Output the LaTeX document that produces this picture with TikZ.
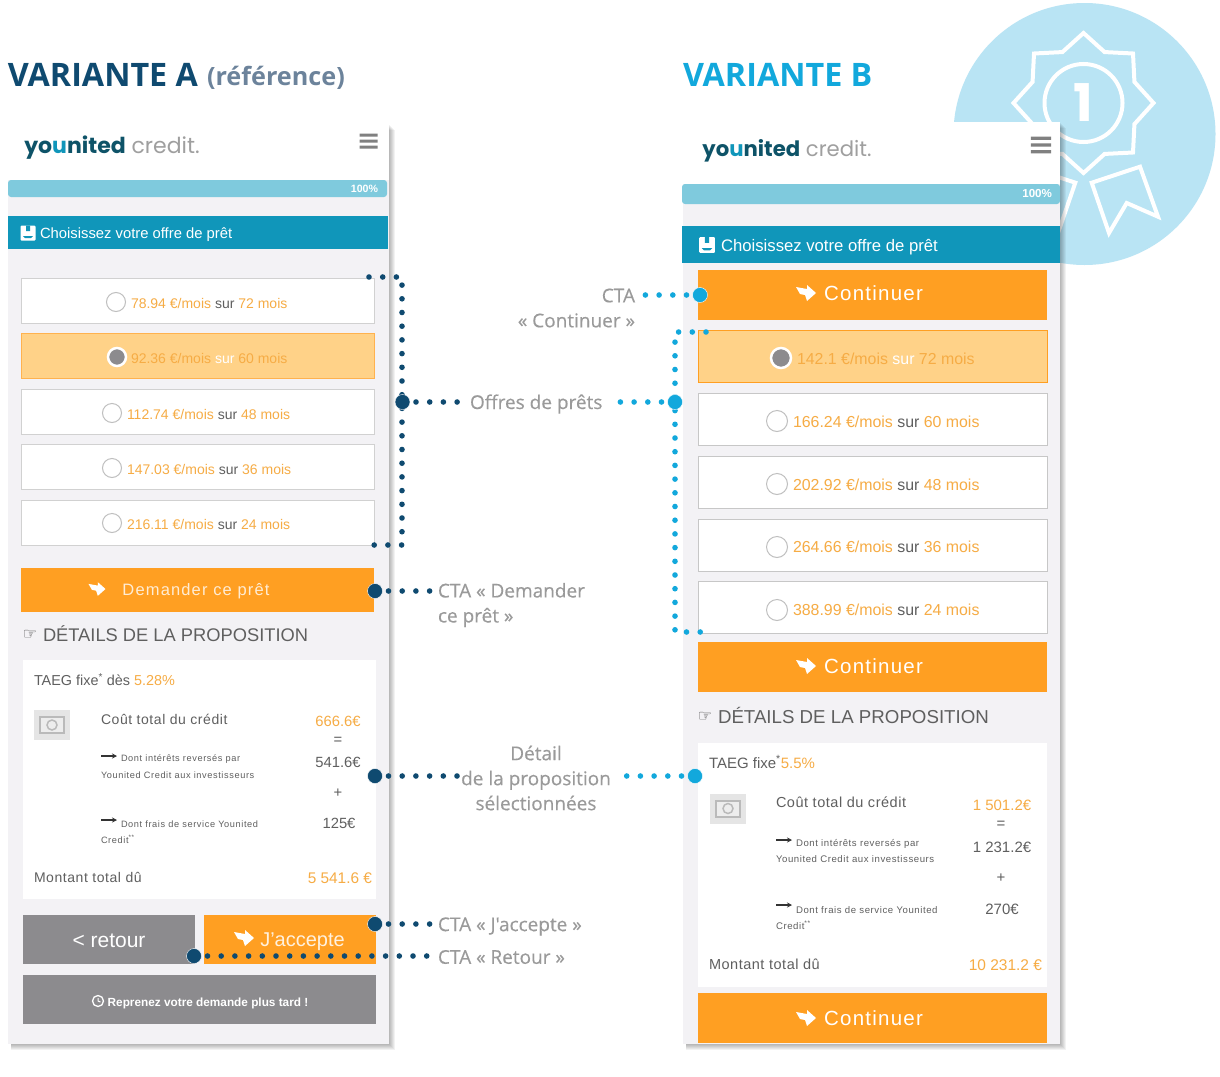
\documentclass[tikz,border=0pt]{standalone}
\usepackage{fontspec}
\setmainfont{Liberation Sans}
\newfontfamily\labelfont{Open Sans}
\newfontfamily\calloutfont[FakeBold=0.35]{Open Sans}
\newfontfamily\logofont{Poppins}
\newfontfamily\symbolfont{DejaVu Sans}
\usetikzlibrary{arrows.meta,shapes.geometric}

\definecolor{navy}{HTML}{0F4A70}
\definecolor{sky}{HTML}{12A8DC}
\definecolor{medal}{HTML}{B9E4F4}
\definecolor{panelbg}{HTML}{F3F2F5}
\definecolor{barblue}{HTML}{7FCADD}
\definecolor{headblue}{HTML}{1096BA}
\definecolor{ctaorange}{HTML}{FF9F22}
\definecolor{offersel}{HTML}{FFD288}
\definecolor{offertext}{HTML}{F6AC45}
\definecolor{greybtn}{HTML}{8C8B8E}
\definecolor{bodytext}{HTML}{5F5F5F}
\definecolor{calltext}{HTML}{9A9A9A}
\definecolor{refblue}{HTML}{6C839B}
\definecolor{logoteal}{HTML}{0E5368}

\newcommand{\fs}[1]{\fontsize{#1}{#1}\selectfont}
\newcommand{\lsp}[1]{\addfontfeature{LetterSpace=#1}}
\newcommand{\offertxt}[3]{{\color{offertext}#1 €/mois} {\color{#3}sur} {\color{offertext}#2 mois}}
\newcommand{\logotxt}{{\bfseries\color{logoteal}yo{\color{headblue}u}nited} {\color{gray!75}credit.}}
\newcommand{\panelshadow}[4]{\foreach \d in {1,...,6} {\fill[black,opacity=.05] (#1+3,#2+\d) rectangle (#3+\d,#4+\d);}}

\begin{document}
\begin{tikzpicture}[x=1pt,y=-1pt,inner sep=0pt,outer sep=0pt,
title/.style={font=\labelfont\bfseries\fs{32.3},anchor=west},
calllabel/.style={font=\calloutfont\fontsize{19}{25}\selectfont,text=calltext},
leaderA/.style={draw=navy,line width=5.6pt,line cap=round,dash pattern=on 0pt off 13.7pt},
leaderB/.style={draw=sky,line width=5.6pt,line cap=round,dash pattern=on 0pt off 13.7pt},
hubA/.style={circle,fill=navy,draw=white,minimum size=15pt},
hubB/.style={circle,fill=sky,draw=white,minimum size=15pt},
headbox/.style={fill=headblue,text=white},
barbox/.style={fill=barblue,rounded corners=3pt},
ctabox/.style={fill=ctaorange,text=white},
greybox/.style={fill=greybtn,text=white},
offerA/.style={draw=black!18,fill=white,line width=1pt,minimum width=353pt,minimum height=45pt},
offerB/.style={draw=black!22,fill=white,line width=1pt,minimum width=349pt,minimum height=52pt},
selA/.style={offerA,draw=ctaorange!80,fill=offersel},
selB/.style={offerB,draw=ctaorange,fill=offersel},
radio/.style={circle,draw=black!25,fill=white,line width=1pt},
radiosel/.style={circle,draw=white,fill=greybtn,line width=2.5pt},
card/.style={fill=white},
txtA/.style={font=\fs{14}\lsp{4},text=bodytext,anchor=west},
txtB/.style={font=\fs{14.5}\lsp{3.6},text=bodytext,anchor=west},
optA/.style={font=\fs{14},text=bodytext,anchor=west},
optB/.style={font=\fs{15.9},text=bodytext,anchor=west},
numA/.style={font=\fs{14.8},text=bodytext},
numB/.style={font=\fs{15},text=bodytext},
fineA/.style={font=\fs{9.2}\lsp{6.6},text=bodytext,anchor=west},
fineB/.style={font=\fs{9.6}\lsp{6},text=bodytext,anchor=west},
contlabel/.style={font=\fs{20.5}\lsp{6},text=white},
badgeline/.style={draw=white,line width=4pt},
ctaicon/.pic={\fill[white] (10,0) -- (1,-8) -- (1,-4) -- (-10,-6) -- (-6,1) -- (-1,2) -- (1,8) -- cycle;},
burger/.pic={\fill[black!50] (-9,-7.5) rectangle (9,-4.5) (-9,-1.5) rectangle (9,1.5) (-9,4.5) rectangle (9,7.5);},
savebox/.pic={\fill[white,rounded corners=1pt] (-7.5,-7.5) rectangle (7.5,7.5);
 \fill[headblue] (-2,-7.5) rectangle (2,-2) (-5,3) -- (5,3) -- (3,5) -- (-3,5) -- cycle;},
billicon/.pic={\fill[black!10] (-18,-15) rectangle (18,15);
 \draw[black!27,line width=2pt,fill=black!7] (-12,-8) rectangle (12,8);
 \draw[black!27,line width=1.5pt] (0,0) circle (5);},
thinarrow/.pic={\draw[black!80,line width=1.2pt,-{Stealth[length=5pt,width=5pt]}] (0,0) -- (16,0);},
clockicon/.pic={\draw[white,line width=1.3pt] (0,0) circle (5.5);
 \draw[white,line width=1pt] (0,-3) -- (0,0) -- (2.5,1);}]

\path[use as bounding box,fill=white] (0,0) rectangle (1220,1076);

% medal behind variant B
\draw (1084.5,134) node[circle,fill=medal,minimum size=262pt] (medalDisc) {};
\draw (1083.5,103) node[star,star points=8,star point ratio=1.27,minimum size=140pt,badgeline] (badgeStar) {};
\draw (1083.5,103) node[circle,badgeline,minimum size=78pt,text=white,font=\logofont\bfseries\fs{52}] (badgeRing) {1};
\draw[badgeline] (1091.7,182.7) -- (1140,166.7) -- (1158,216.7) -- (1126.7,203) -- (1109,233) -- cycle;
\draw[badgeline] (1075.3,182.7) -- (1027,166.7) -- (1009,216.7) -- (1040.3,203) -- (1058,233) -- cycle;

% titles
\draw (8,75) node[title,text=navy] (titleA) {VARIANTE A};
\draw (207,78) node[anchor=west,font=\labelfont\bfseries\fs{25.2},text=refblue] (titleRef) {(référence)};
\draw (683,75) node[title,text=sky] (titleB) {VARIANTE B};

% variant A
\panelshadow{8}{124}{389}{1044}
\fill[panelbg] (8,124) rectangle (389,1044);
\fill[white] (8,124) rectangle (389,180);
\draw (112,147.5) node[font=\logofont\fs{22}] (logoA) {\logotxt};
\pic at (368.5,141) {burger};
\draw (197.5,188.5) node[barbox,minimum width=379pt,minimum height=17pt] (barA) {};
\draw (378,188.5) node[anchor=east,font=\bfseries\fs{10.6},text=white] (pctA) {100\%};
\draw (198,232.5) node[headbox,minimum width=380pt,minimum height=33pt] (headA) {};
\pic at (28,233) {savebox};
\draw (40,234.5) node[anchor=west,font=\fs{14.8},text=white] (headtxtA) {Choisissez votre offre de prêt};

\draw (197.5,300.5) node[offerA] (offA1) {};
\draw (197.5,356) node[selA] (offA2) {};
\draw (197.5,411.5) node[offerA] (offA3) {};
\draw (197.5,467) node[offerA] (offA4) {};
\draw (197.5,522.5) node[offerA] (offA5) {};
\draw (116,302) node[radio,minimum size=19pt] (radA1) {};
\draw (117,357) node[radiosel,minimum size=18pt] (radA2) {};
\draw (112,413) node[radio,minimum size=19pt] (radA3) {};
\draw (112,468) node[radio,minimum size=19pt] (radA4) {};
\draw (112,523) node[radio,minimum size=19pt] (radA5) {};
\draw (131,303) node[optA] (optA1) {\offertxt{78.94}{72}{bodytext}};
\draw (131,358) node[optA] (optA2) {\offertxt{92.36}{60}{white}};
\draw (127,414) node[optA] (optA3) {\offertxt{112.74}{48}{bodytext}};
\draw (127,469) node[optA] (optA4) {\offertxt{147.03}{36}{bodytext}};
\draw (127,524) node[optA] (optA5) {\offertxt{216.11}{24}{bodytext}};

\draw (197.5,590) node[ctabox,minimum width=353pt,minimum height=44pt] (ctaDemander) {};
\pic[scale=.85] at (97,589) {ctaicon};
\draw (196,591.5) node[font=\fs{16.5}\lsp{7},text=white!80!ctaorange] (txtDemander) {Demander ce prêt};
\draw (30,635) node[font=\symbolfont\fs{16},text=black!75] (handA) {☞};
\draw (43,634) node[anchor=west,font=\fs{18.3},text=bodytext] (detailsA) {DÉTAILS DE LA PROPOSITION};

\draw (199.5,779.5) node[card,minimum width=353pt,minimum height=239pt] (cardA) {};
\draw (34,680) node[anchor=west,font=\fs{14.4},text=bodytext] (taegA) {TAEG fixe\textsuperscript{*} dès {\color{offertext}5.28\%}};
\pic at (52,725) {billicon};
\draw (101,719) node[txtA] (coutA) {Coût total du crédit};
\draw (338,721) node[numA,text=offertext] (sumA) {666.6€};
\draw (338,741) node[numA] (eqA) {=};
\draw (338,762) node[numA] (intA) {541.6€};
\draw (338,793) node[numA] (plusA) {+};
\draw (339,823) node[numA] (fraisA) {125€};
\pic at (101,756) {thinarrow};
\draw (121,759) node[fineA] (fineA1) {Dont intérêts reversés par};
\draw (101,775) node[fineA] (fineA2) {Younited Credit aux investisseurs};
\pic at (101,820) {thinarrow};
\draw (121,824) node[fineA] (fineA3) {Dont frais de service Younited};
\draw (101,839) node[fineA] (fineA4) {Credit\textsuperscript{**}};
\draw (34,877) node[txtA] (totalA) {Montant total dû};
\draw (372,878) node[anchor=east,font=\fs{15.4},text=offertext] (totalvalA) {5 541.6 €};

\draw (109,939.5) node[greybox,minimum width=172pt,minimum height=49pt] (btnRetour) {};
\draw (109,940.5) node[font=\fs{21},text=white] (txtRetour) {< retour};
\draw (290,939.5) node[ctabox,minimum width=172pt,minimum height=49pt] (btnAccepte) {};
\pic at (244,938) {ctaicon};
\draw (302.5,941.5) node[font=\fs{20},text=white!85!ctaorange] (txtAccepte) {J'accepte};
\draw (199.5,999.5) node[greybox,minimum width=353pt,minimum height=49pt] (btnReprendre) {};
\pic at (98,1001) {clockicon};
\draw (208,1003) node[font=\bfseries\fs{11.8},text=white] (txtReprendre) {Reprenez votre demande plus tard !};

% variant B
\panelshadow{683}{122}{1060}{1044}
\fill[panelbg] (683,122) rectangle (1060,1044);
\fill[white] (683,122) rectangle (1060,184);
\draw (787,151) node[font=\logofont\fs{21.2}] (logoB) {\logotxt};
\pic[scale=1.12] at (1041,145) {burger};
\draw (871,194) node[barbox,minimum width=378pt,minimum height=20pt] (barB) {};
\draw (1052,194) node[anchor=east,font=\bfseries\fs{11.6},text=white] (pctB) {100\%};
\draw (871,244.5) node[headbox,minimum width=378pt,minimum height=37pt] (headB) {};
\pic[scale=1.05] at (707,245) {savebox};
\draw (721,247) node[anchor=west,font=\fs{16.7},text=white] (headtxtB) {Choisissez votre offre de prêt};
\draw (872.5,295) node[ctabox,minimum width=349pt,minimum height=50pt] (ctaTop) {};
\pic at (806,293) {ctaicon};
\draw (873.5,293) node[contlabel] (txtTop) {Continuer};

\draw (872.5,356) node[selB] (offB1) {};
\draw (872.5,419) node[offerB] (offB2) {};
\draw (872.5,482) node[offerB] (offB3) {};
\draw (872.5,545) node[offerB] (offB4) {};
\draw (872.5,607) node[offerB] (offB5) {};
\draw (781,358) node[radiosel,minimum size=20pt] (radB1) {};
\draw (777,421) node[radio,minimum size=21pt] (radB2) {};
\draw (777,484) node[radio,minimum size=21pt] (radB3) {};
\draw (777,547) node[radio,minimum size=21pt] (radB4) {};
\draw (777,610) node[radio,minimum size=21pt] (radB5) {};
\draw (797,358.5) node[optB] (optB1) {\offertxt{142.1}{72}{white}};
\draw (793,421.5) node[optB] (optB2) {\offertxt{166.24}{60}{bodytext}};
\draw (793,484.5) node[optB] (optB3) {\offertxt{202.92}{48}{bodytext}};
\draw (793,547) node[optB] (optB4) {\offertxt{264.66}{36}{bodytext}};
\draw (793,610) node[optB] (optB5) {\offertxt{388.99}{24}{bodytext}};

\draw (872.5,667) node[ctabox,minimum width=349pt,minimum height=50pt] (ctaMid) {};
\pic at (806,666) {ctaicon};
\draw (873.5,666) node[contlabel] (txtMid) {Continuer};
\draw (705,717) node[font=\symbolfont\fs{16},text=black!75] (handB) {☞};
\draw (718,715.5) node[anchor=west,font=\fs{18.7},text=bodytext] (detailsB) {DÉTAILS DE LA PROPOSITION};

\draw (872.5,865) node[card,minimum width=349pt,minimum height=244pt] (cardB) {};
\draw (709,762) node[anchor=west,font=\fs{15},text=bodytext] (taegB) {TAEG fixe\textsuperscript{*}{\color{offertext}5.5\%}};
\pic at (728,808.5) {billicon};
\draw (776,802) node[txtB] (coutB) {Coût total du crédit};
\draw (1002,805) node[numB,text=offertext] (sumB) {1 501.2€};
\draw (1001,825) node[numB] (eqB) {=};
\draw (1002,847) node[numB] (intB) {1 231.2€};
\draw (1001,878) node[numB] (plusB) {+};
\draw (1002,909) node[numB] (fraisB) {270€};
\pic at (776,840) {thinarrow};
\draw (796,844) node[fineB] (fineB1) {Dont intérêts reversés par};
\draw (776,859) node[fineB] (fineB2) {Younited Credit aux investisseurs};
\pic at (776,905) {thinarrow};
\draw (796,910) node[fineB] (fineB3) {Dont frais de service Younited};
\draw (776,925) node[fineB] (fineB4) {Credit\textsuperscript{**}};
\draw (709,964) node[txtB] (totalB) {Montant total dû};
\draw (1042,965) node[anchor=east,font=\fs{15.5},text=offertext] (totalvalB) {10 231.2 €};
\draw (872.5,1018) node[ctabox,minimum width=349pt,minimum height=50pt] (ctaBot) {};
\pic at (806,1018) {ctaicon};
\draw (873.5,1018) node[contlabel] (txtBot) {Continuer};

% callout labels
\draw (470,404) node[calllabel,anchor=west] (labOffres) {Offres de prêts};
\draw (438,605) node[calllabel,anchor=west,align=left] (labDemander) {CTA « Demander\\ce prêt »};
\draw (536,778) node[calllabel,align=center] (labDetail) {Détail\\de la proposition\\sélectionnées};
\draw (438,926.5) node[calllabel,anchor=west] (labAccepte) {CTA « J'accepte »};
\draw (438,957) node[calllabel,anchor=west] (labRetour) {CTA « Retour »};
\draw (635,308) node[calllabel,anchor=east,align=right] (labContinuer) {CTA\\« Continuer »};

% hubs and dotted leaders
\coordinate (topA) at (369,277);
\coordinate (botA) at (369,545);
\coordinate (topB) at (706,332);
\coordinate (botB) at (706,632);
\draw[leaderA] (topA) -- ++(33,0) |- (botA);
\draw[leaderB] (topB) -- ++(-31,0) |- (botB);

\draw (402.5,402) node[hubA] (hubOffresA) {};
\draw (675,402) node[hubB] (hubOffresB) {};
\draw (375,591) node[hubA] (hubDemander) {};
\draw (375,776) node[hubA] (hubDetailA) {};
\draw (695,776) node[hubB] (hubDetailB) {};
\draw (375,924) node[hubA] (hubAccepte) {};
\draw (194,956) node[hubA] (hubRetour) {};
\draw (700,295) node[hubB] (hubContinuer) {};

\draw[leaderA,shorten <=6pt,shorten >=6pt] (hubOffresA) -- (labOffres.west |- hubOffresA);
\draw[leaderB,shorten <=6pt,shorten >=8pt] (hubOffresB) -- (labOffres.east |- hubOffresB);
\draw[leaderA,shorten <=6pt,shorten >=6pt] (hubDemander) -- (labDemander.west |- hubDemander);
\draw[leaderA,shorten <=6pt,shorten >=3pt] (hubDetailA) -- (labDetail.west |- hubDetailA);
\draw[leaderB,shorten <=6pt,shorten >=3pt] (hubDetailB) -- (labDetail.east |- hubDetailB);
\draw[leaderA,shorten <=6pt,shorten >=6pt] (hubAccepte) -- (labAccepte.west |- hubAccepte);
\draw[leaderA,shorten <=6pt,shorten >=6pt] (hubRetour) -- (labRetour.west |- hubRetour);
\draw[leaderB,shorten <=6pt,shorten >=8pt] (hubContinuer) -- (labContinuer.east |- hubContinuer);
\end{tikzpicture}
\end{document}
